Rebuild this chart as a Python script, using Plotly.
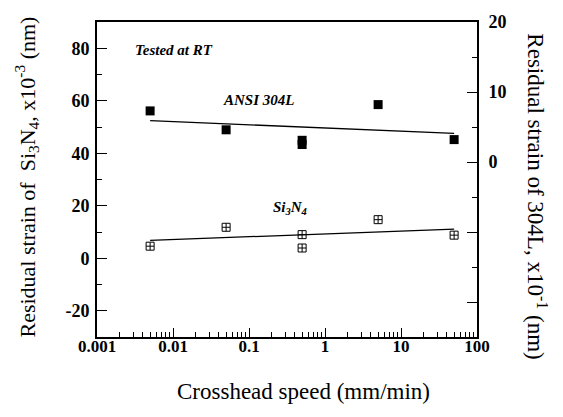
import plotly.graph_objects as go

# Data
si_x = [0.005, 0.05, 0.5, 0.5, 5, 50]
si_y = [4.6, 11.8, 9.0, 3.9, 14.7, 8.8]          # left axis (x10^-3 nm)
ss_x = [0.005, 0.05, 0.5, 0.5, 5, 50]
ss_y = [7.3, 4.6, 3.1, 2.5, 8.2, 3.2]            # right axis (x10^-1 nm)
si_fit_x = [0.005, 50]
si_fit_y = [6.8, 11.1]
ss_fit_x = [0.005, 50]
ss_fit_y = [5.9, 4.1]

x_major = [0.001, 0.01, 0.1, 1, 10, 100]
x_major_text = ["0.001", "0.01", "0.1", "1", "10", "100"]
yl_ticks = [-20, 0, 20, 40, 60, 80]
yl_text = ["-20", "0", "20", "40", "60", "80"]
yr_ticks = [-20, -10, 0, 10, 20]
yr_text = ["", "", "0", "10", "20"]

FONT = "Liberation Serif, Times New Roman, DejaVu Serif, serif"

fig = go.Figure()
fig.add_trace(go.Scatter(x=si_fit_x, y=si_fit_y, mode="lines",
                         line=dict(color="black", width=1.3), yaxis="y"))
fig.add_trace(go.Scatter(x=si_x, y=si_y, mode="markers",
                         marker=dict(symbol="square-cross-open", size=8, color="black",
                                     line=dict(width=1)), yaxis="y"))
fig.add_trace(go.Scatter(x=ss_fit_x, y=ss_fit_y, mode="lines",
                         line=dict(color="black", width=1.3), yaxis="y2"))
fig.add_trace(go.Scatter(x=ss_x, y=ss_y, mode="markers",
                         marker=dict(symbol="square", size=9, color="black"), yaxis="y2"))

fig.update_layout(
    width=563, height=417,
    margin=dict(l=97, r=86, t=19, b=80),
    paper_bgcolor="white", plot_bgcolor="white",
    showlegend=False,
    font=dict(family=FONT, color="black"),
    xaxis=dict(type="log", range=[-3, 2], showgrid=False, zeroline=False,
               showline=True, linecolor="black", linewidth=2, mirror=True,
               ticks="inside", ticklen=9, tickwidth=1, tickcolor="black",
               tickmode="array", tickvals=x_major,
               ticktext=["<b>%s</b>" % t for t in x_major_text],
               ticklabelstandoff=-7,
               tickfont=dict(size=17, family=FONT),
               minor=dict(dtick="D1", ticks="inside",
                          ticklen=5, tickwidth=1, tickcolor="black", showgrid=False)),
    yaxis=dict(range=[-30, 90], showgrid=False, zeroline=False,
               showline=True, linecolor="black", linewidth=2,
               ticks="inside", ticklen=10, tickwidth=1, tickcolor="black",
               tickmode="array", tickvals=yl_ticks,
               ticktext=["<b>%s</b>" % t for t in yl_text],
               ticklabelstandoff=2,
               tickfont=dict(size=18, family=FONT),
               minor=dict(dtick=10, tick0=-30, ticks="inside", ticklen=5,
                          tickwidth=1, tickcolor="black", showgrid=False)),
    yaxis2=dict(range=[-25, 20], overlaying="y", side="right", showgrid=False,
                zeroline=False, showline=True, linecolor="black", linewidth=2,
                ticks="inside", ticklen=10, tickwidth=1, tickcolor="black",
                tickmode="array", tickvals=yr_ticks,
                ticktext=["<b>%s</b>" % t if t else "" for t in yr_text],
                ticklabelstandoff=6,
                tickfont=dict(size=18, family=FONT),
                minor=dict(dtick=5, tick0=-25, ticks="inside", ticklen=5,
                           tickwidth=1, tickcolor="black", showgrid=False)),
)

W, H = 380.0, 318.0
def px(x): return (x - 97) / W
def py(y): return (337 - y) / H

def ann(x, y, text, size, angle=0, xanchor="center"):
    fig.add_annotation(x=px(x), y=py(y), xref="paper", yref="paper", showarrow=False,
                       xanchor=xanchor, yanchor="middle", text=text, textangle=angle,
                       font=dict(size=size, family=FONT, color="black"))

ann(27, 176, "Residual strain of  Si<sub>3</sub>N<sub>4</sub>, x10<sup>-3</sup> (nm)", 22, -90)
ann(537, 195, "Residual strain of 304L, x10<sup>-1</sup> (nm)", 23, 90)
ann(303, 392, "Crosshead speed (mm/min)", 23)
ann(133, 47, "<b><i>Tested at RT</i></b>", 15, xanchor="left")
ann(258, 98, "<b><i>ANSI 304L</i></b>", 15)
ann(290, 207, "<b><i>Si<sub>3</sub>N<sub>4</sub></i></b>", 15)

fig.write_html("out.html", config={"displayModeBar": False},
               post_script="document.body.style.margin='0';")
